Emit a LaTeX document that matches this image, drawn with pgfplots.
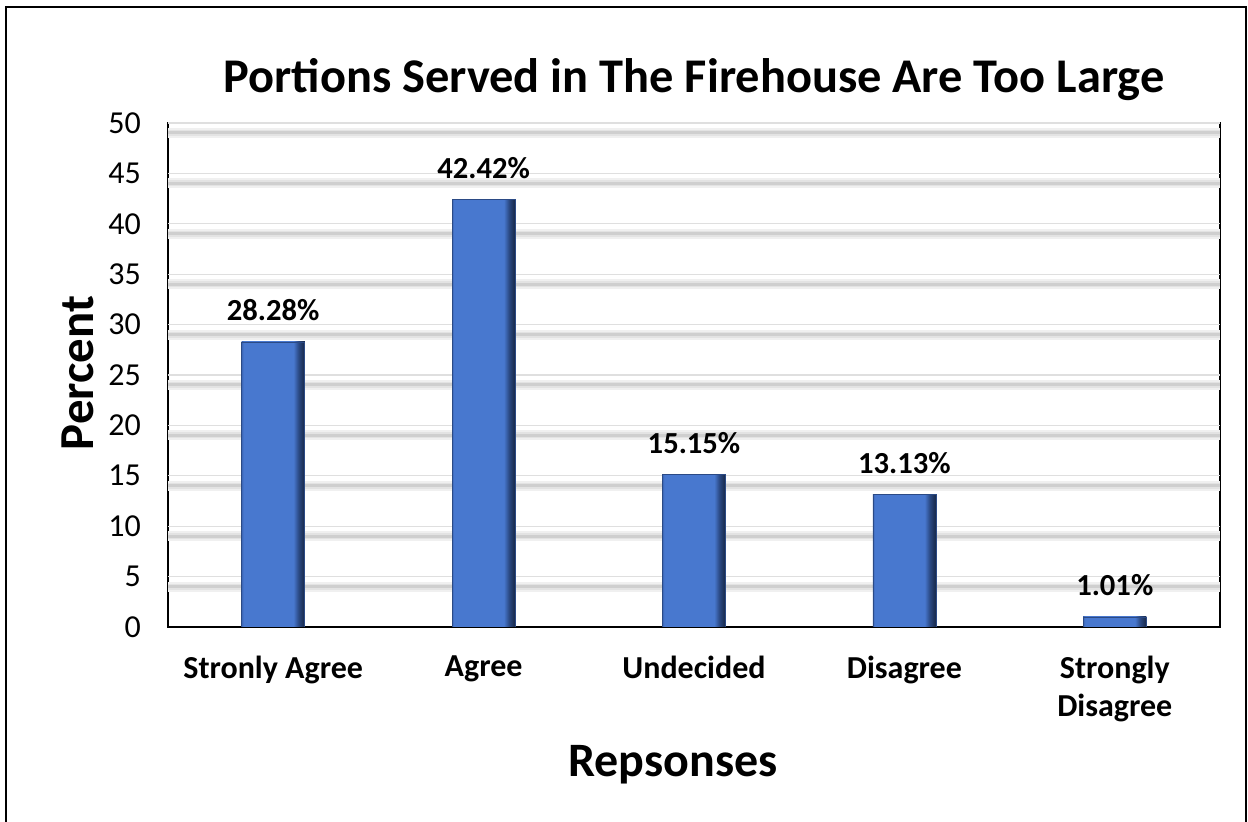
\documentclass[border=0pt]{standalone}
\usepackage{pgfplots}
\pgfplotsset{compat=1.18}
\usepackage{fontspec}
\setmainfont{Carlito}
\definecolor{bL}{HTML}{3A64B2}
\definecolor{bM}{HTML}{4878CF}
\definecolor{bD}{HTML}{2B4A85}
\definecolor{bDD}{HTML}{1B2E52}
\pgfdeclarehorizontalshading{barshade}{100bp}{color(0bp)=(bL); color(25bp)=(bL); color(26.5bp)=(bM); color(66bp)=(bM); color(70bp)=(bD); color(74bp)=(bDD); color(75bp)=(bDD); color(100bp)=(bDD)}
\tikzset{bevel/.style={draw=bD, line width=0.3pt, shade, shading=barshade}}
\begin{document}
\begin{tikzpicture}
\useasboundingbox (-84pt,-97.5pt) rectangle (540pt,313.5pt);
\draw[line width=1pt] (-81pt,-99pt) -- (-81pt,310pt) -- (539pt,310pt) -- (539pt,-99pt);
\begin{axis}[
  at={(0pt,0pt)}, anchor=south west,
  scale only axis, width=526pt, height=252pt,
  xmin=-0.5, xmax=4.5, ymin=0, ymax=50,
  ytick={0,5,...,50}, xtick={0,1,2,3,4},
  xticklabels={Stronly Agree, Agree, Undecided, Disagree, {Strongly\\Disagree}},
  xticklabel style={align=center, font=\bfseries\fontsize{16}{19}\selectfont, yshift=-11pt},
  yticklabel style={font=\fontsize{16}{18}\selectfont, xshift=-10pt},
  /pgf/number format/assume math mode=true,
  tick style={draw=none}, major tick length=0pt,
  axis line style={line width=1pt},
  ybar, bar width=0.3, bar shift=0pt,
  nodes near coords={\pgfmathprintnumber[fixed,precision=2,fixed zerofill]{\pgfplotspointmeta}\%},
  every node near coord/.append style={font=\bfseries\fontsize{15.3}{18}\selectfont, yshift=7pt, text=black},
]
\pgfplotsinvokeforeach{5,10,...,50}{
  \draw[line width=5pt, gray!12] ([yshift=-5pt]axis cs:-0.5,#1) -- ([yshift=-5pt]axis cs:4.5,#1);
  \draw[line width=3pt, gray!22] ([yshift=-5pt]axis cs:-0.5,#1) -- ([yshift=-5pt]axis cs:4.5,#1);
  \draw[line width=1.5pt, gray!38] ([yshift=-5pt]axis cs:-0.5,#1) -- ([yshift=-5pt]axis cs:4.5,#1);
  \draw[line width=0.6pt, gray!25] (axis cs:-0.5,#1) -- (axis cs:4.5,#1);
}
\addplot[bevel] coordinates {(0,28.28)};
\addplot[bevel] coordinates {(1,42.42)};
\addplot[bevel] coordinates {(2,15.15)};
\addplot[bevel] coordinates {(3,13.13)};
\addplot[bevel] coordinates {(4,1.01)};
\end{axis}
\node[font=\bfseries\fontsize{24.2}{28}\selectfont] at (263pt,273.5pt) {Portions Served in The Firehouse Are Too Large};
\node[font=\bfseries\fontsize{24}{28}\selectfont] at (252.5pt,-69pt) {Repsonses};
\node[font=\bfseries\fontsize{24.4}{28}\selectfont, rotate=90] at (-45pt,127pt) {Percent};
\end{tikzpicture}
\end{document}
